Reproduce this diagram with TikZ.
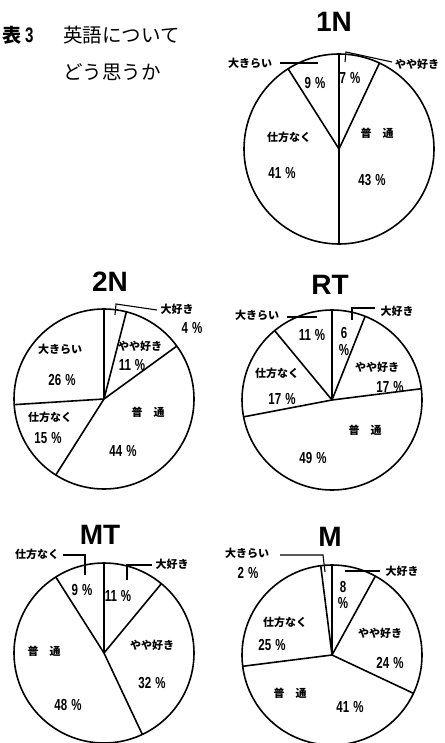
\documentclass[tikz,border=0pt]{standalone}
\usepackage{fontspec}
\setmainfont{Noto Sans CJK JP}
\newfontfamily\titlefont{Liberation Sans}
\newfontfamily\numfont[FakeStretch=0.72]{Liberation Sans}
\newcommand\pc{\hspace{4pt}\%}
\begin{document}
\begin{tikzpicture}[x=1pt,y=-1pt,
  pieline/.style={line width=1.6pt},
  leader/.style={line width=1.1pt},
  lab/.style={font=\bfseries\fontsize{11}{11}\selectfont, inner sep=0pt},
  num/.style={font=\numfont\bfseries\fontsize{16}{16}\selectfont, inner sep=0pt},
  ttl/.style={font=\titlefont\bfseries\fontsize{28}{28}\selectfont, inner sep=0pt},
  head/.style={font=\fontsize{19.5}{19.5}\selectfont, inner sep=0pt, anchor=west}]
\newcommand\mypie[4]{%
  \draw[pieline] (#1,#2) circle[radius=#3];
  \foreach \c in {#4} \draw[pieline] (#1,#2) -- ++({3.6*\c-90}:#3);
}
\useasboundingbox (0,0) rectangle (444,743);
% heading
\node[inner sep=0pt, anchor=west] (h0) at (2,35) {\bfseries\fontsize{19}{19}\selectfont 表\hspace{4pt}{\numfont\bfseries\fontsize{21}{21}\selectfont 3}};
\node[head] (h1) at (63,35) {英語について};
\node[head] (h2) at (63,72) {どう思うか};

% ---------- 1N ----------
\node[ttl] (t1) at (334,22) {1N};
\mypie{339}{149}{95}{0,7,50,91}
\node[num] (a1) at (350,78) {7\pc};
\node[num] (a2) at (315,83) {9\pc};
\node[lab] (a3) at (289,137) {仕方なく};
\node[num] (a4) at (282,173) {41\pc};
\node[lab] (a5) at (377,133) {普\quad 通};
\node[num] (a6) at (372,180) {43\pc};
\node[lab] (a7) at (250,63) {大きらい};
\node[lab] (a8) at (417,64) {やや好き};
\draw[leader] (280,63) -- (318,63);
\draw[leader] (345,62) -- (346,52) -- (392,62);

% ---------- 2N ----------
\node[ttl] (t2) at (110,282) {2N};
\mypie{104}{399}{90}{0,4,15,59,74}
\node[lab] (b1) at (177,309) {大好き};
\node[num] (b2) at (192,328) {4\pc};
\node[lab] (b3) at (140,346) {やや好き};
\node[num] (b4) at (132,365) {11\pc};
\node[lab] (b5) at (148,412) {普\quad 通};
\node[num] (b6) at (123,451) {44\pc};
\node[lab] (b7) at (50,417) {仕方なく};
\node[num] (b8) at (48,438) {15\pc};
\node[lab] (b9) at (60,349) {大きらい};
\node[num] (b10) at (62,380) {26\pc};
\draw[leader] (115,315) -- (116,304) -- (157,310);

% ---------- RT ----------
\node[ttl] (t3) at (330,285) {RT};
\mypie{332}{400}{90}{0,6,23,72,89}
\node[lab] (c1) at (257,315) {大きらい};
\node[lab] (c2) at (397,311) {大好き};
\node[num] (c3) at (344,333) {6};
\node[num] (c4) at (344,350) {\%};
\node[num] (c5) at (312,335) {11\pc};
\node[lab] (c6) at (377,367) {やや好き};
\node[num] (c7) at (390,387) {17\pc};
\node[lab] (c8) at (277,373) {仕方なく};
\node[num] (c9) at (282,399) {17\pc};
\node[lab] (c10) at (365,430) {普\quad 通};
\node[num] (c11) at (313,458) {49\pc};
\draw[leader] (287,317) -- (317,317);
\draw[leader] (352,320) -- (352,308) -- (375,308);

% ---------- MT ----------
\node[ttl] (t4) at (100,535) {MT};
\mypie{104}{653}{90}{0,11,43,91}
\node[lab] (d1) at (37,554) {仕方なく};
\node[lab] (d2) at (172,564) {大好き};
\node[num] (d3) at (82,590) {9\pc};
\node[num] (d4) at (118,596) {11\pc};
\node[lab] (d5) at (152,645) {やや好き};
\node[num] (d6) at (152,683) {32\pc};
\node[lab] (d7) at (44,651) {普\quad 通};
\node[num] (d8) at (68,705) {48\pc};
\draw[leader] (63,555) -- (85,555) -- (85,575);
\draw[leader] (127,580) -- (127,565) -- (152,565);

% ---------- M ----------
\node[ttl] (t5) at (330,537) {M};
\mypie{332}{655}{90}{0,8,32,73,98}
\node[lab] (e1) at (247,553) {大きらい};
\node[num] (e2) at (248,573) {2\pc};
\node[lab] (e3) at (402,571) {大好き};
\node[num] (e4) at (343,587) {8};
\node[num] (e5) at (343,603) {\%};
\node[lab] (e6) at (380,633) {やや好き};
\node[num] (e7) at (390,663) {24\pc};
\node[lab] (e8) at (285,622) {仕方なく};
\node[num] (e9) at (272,645) {25\pc};
\node[lab] (e10) at (290,693) {普\quad 通};
\node[num] (e11) at (350,707) {41\pc};
\draw[leader] (280,555) -- (323,555) -- (325,572);
\draw[leader] (345,571) -- (380,571);
\end{tikzpicture}
\end{document}
